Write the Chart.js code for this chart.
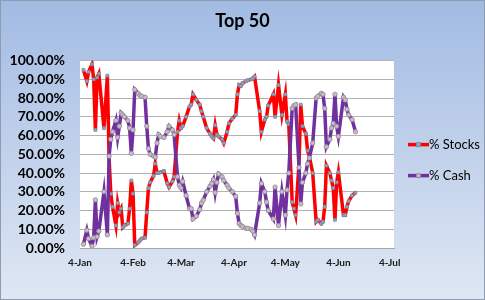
<!DOCTYPE html>
<html>
<head>
<meta charset="utf-8">
<script src="https://cdn.jsdelivr.net/npm/chart.js@4.4.0/dist/chart.umd.min.js"></script>
<style>
  html, body { margin: 0; padding: 0; background: #fff; }
  #wrap { width: 485px; height: 300px; }
</style>
</head>
<body>
<div id="wrap"><canvas id="chart" width="485" height="300"></canvas></div>
<script>
/* DATA */

// days counted from 4-Jan
const days = [2, 4, 5, 7, 8, 9, 10, 11, 14, 16, 17, 18, 19, 21, 22, 23, 24, 25, 26, 28,
  29, 30, 31, 32, 34, 35, 36, 38, 39, 40, 41, 43, 44, 45, 46, 47, 49, 51, 52, 54,
  55, 57, 58, 59, 60, 62, 64, 65, 66, 68, 70, 71, 72, 74, 76, 77, 78, 79, 80, 81,
  83, 84, 86, 87, 89, 91, 92, 93, 94, 95, 97, 98, 100, 101, 102, 105, 106, 108, 109, 110,
  113, 114, 116, 118, 120, 121, 122, 124, 125, 126, 128, 129, 130, 132, 133, 134, 136, 138, 139, 141,
  142, 143, 144, 146, 147, 148, 149, 150, 151, 154, 155, 156, 157, 159, 161];

const stocks = [95, 89, 94, 98, 90, 63, 91, 93, 64, 92, 48, 29, 22, 12, 24, 19, 21, 11, 12, 13,
  21, 36, 29, 1.5, 3, 4, 5, 5.5, 19, 32, 35, 38.5, 45, 40, 40, 40.5, 41, 34.5, 32.5, 35.5,
  38, 62, 68, 64, 65, 70, 75.5, 76.5, 82, 79, 76.5, 73, 70, 64, 61, 59.5, 58.5, 65.5, 60.5, 59.5,
  58, 56, 62, 66.5, 69, 71, 82, 87, 86.5, 88, 89, 89.5, 90, 90.5, 91.5, 73, 62, 68.5, 70, 76,
  82, 70, 87, 71, 82, 67.5, 66, 24.5, 21, 17.5, 45, 76.5, 65, 61, 52, 49, 40, 14, 15, 13,
  14, 22, 44, 40, 36, 32, 15, 35, 40.5, 17.5, 17.5, 22, 25, 28, 29.5];

const cash = [2, 9.5, 5, 1, 5.5, 25.7, 6, 9, 30, 7, 49, 58, 62, 68, 59, 65, 72, 71, 70, 68,
  64, 50.5, 63, 84.5, 82.5, 81.5, 81, 80.5, 65, 53, 50, 49, 48.5, 56, 60.5, 59.5, 59, 62, 65, 63,
  60.5, 38, 33.5, 32, 35.5, 28, 21, 21, 15.5, 17, 20.5, 24, 25.5, 30, 33, 34.5, 36.5, 29.5, 35, 39.5,
  38, 36, 33.5, 32, 30, 27.5, 18.5, 13, 12, 11.5, 10.5, 10.5, 10, 9, 7, 24, 34.5, 30, 24.5, 20,
  15.5, 32.5, 12, 30, 17.5, 31, 40, 74.5, 76, 76.5, 43, 23.5, 35, 40, 45, 48, 56, 80, 81, 82.5,
  82, 74.5, 54, 58, 64, 66.5, 82, 65, 59.5, 80.5, 79, 74, 71, 68.5, 62];

const tickDays = [0, 31, 59, 90, 120, 151, 181];
const tickLabels = ["4-Jan", "4-Feb", "4-Mar", "4-Apr", "4-May", "4-Jun", "4-Jul"];

const FONT = "Lato";

/* PLUGINS */

const chartBackground = {
  id: "chartBackground",
  beforeDraw(chart) {
    const { ctx, width, height, chartArea: a } = chart;
    const g = ctx.createLinearGradient(0, 0, 0, height);
    g.addColorStop(0, "#a2bbe3");
    g.addColorStop(1, "#dfe7f3");
    ctx.save();
    ctx.fillStyle = g;
    ctx.fillRect(0, 0, width, height);
    ctx.strokeStyle = "#8f9bb0";
    ctx.lineWidth = 1;
    ctx.strokeRect(0.5, 0.5, width - 1, height - 1);
    ctx.fillStyle = "#ffffff";
    ctx.fillRect(a.left, a.top, a.right - a.left, a.bottom - a.top);
    ctx.restore();
  },
};

const sideLegend = {
  id: "sideLegend",
  afterDraw(chart) {
    const { ctx, chartArea: a } = chart;
    const x0 = a.right + 14;
    chart.data.datasets.forEach((ds, i) => {
      const y = a.top + 84 + i * 31;
      ctx.save();
      ctx.strokeStyle = ds.borderColor;
      ctx.lineWidth = 3.5;
      ctx.beginPath();
      ctx.moveTo(x0, y);
      ctx.lineTo(x0 + 21, y);
      ctx.stroke();
      ctx.fillStyle = ds.pointBackgroundColor;
      ctx.strokeStyle = ds.pointBorderColor;
      ctx.lineWidth = 1;
      ctx.beginPath();
      if (ds.pointStyle === "rect") ctx.rect(x0 + 8.5, y - 2, 4, 4);
      else ctx.arc(x0 + 10.5, y, 2.2, 0, Math.PI * 2);
      ctx.fill();
      ctx.stroke();
      ctx.fillStyle = "#000";
      ctx.font = `13px ${FONT}`;
      ctx.textBaseline = "middle";
      ctx.fillText(ds.label, x0 + 21, y + 0.5);
      ctx.restore();
    });
  },
};

/* CHART */

const toPoints = (vals) => days.map((d, i) => ({ x: d, y: vals[i] }));

new Chart(document.getElementById("chart"), {
  type: "line",
  data: {
    datasets: [
      {
        label: "% Stocks",
        data: toPoints(stocks),
        borderColor: "#ff0000",
        borderWidth: 3.5,
        pointStyle: "rect",
        pointRadius: 2,
        pointBackgroundColor: "#8fa6c4",
        pointBorderColor: "#7a8aa3",
        pointBorderWidth: 0.8,
        tension: 0,
        order: 2,
      },
      {
        label: "% Cash",
        data: toPoints(cash),
        borderColor: "#7030a0",
        borderWidth: 3.5,
        pointStyle: "circle",
        pointRadius: 2.2,
        pointBackgroundColor: "#cdb8cf",
        pointBorderColor: "#8a8a8a",
        pointBorderWidth: 0.8,
        tension: 0,
        order: 1,
      },
    ],
  },
  options: {
    responsive: false,
    animation: false,
    devicePixelRatio: 1,
    layout: { padding: 0 },
    plugins: {
      legend: { display: false },
      tooltip: { enabled: false },
      title: {
        display: true,
        text: "Top 50",
        color: "#000",
        font: { family: FONT, size: 18, weight: "bold" },
        padding: { top: 10, bottom: 29 },
      },
    },
    scales: {
      x: {
        type: "linear",
        min: 0,
        max: 183.5,
        afterBuildTicks: (scale) => {
          scale.ticks = tickDays.map((v) => ({ value: v }));
        },
        afterFit: (scale) => {
          scale.height = 52;
        },
        ticks: {
          autoSkip: false,
          maxRotation: 0,
          padding: 9,
          color: "#1a1a1a",
          font: { family: FONT, size: 10, weight: "bold" },
          callback: (v) => tickLabels[tickDays.indexOf(v)],
        },
        grid: { display: false, drawTicks: false },
        border: { display: true, color: "#a6a6a6", width: 1 },
      },
      y: {
        min: 0,
        max: 100,
        afterFit: (scale) => {
          scale.width = 80;
        },
        ticks: {
          stepSize: 10,
          autoSkip: false,
          padding: 15,
          color: "#000",
          font: { family: FONT, size: 14, weight: "bold" },
          callback: (v) => v.toFixed(2) + "%",
        },
        grid: { color: "#b3b3b3", lineWidth: 1, drawTicks: false },
        border: { display: false },
      },
      // empty right-hand box that keeps room for the legend
      legendSpace: {
        position: "right",
        min: 0,
        max: 100,
        afterFit: (scale) => {
          scale.width = 91;
        },
        ticks: { display: false },
        grid: { display: false, drawTicks: false },
        border: { display: false },
      },
    },
  },
  plugins: [chartBackground, sideLegend],
});
</script>
</body>
</html>
